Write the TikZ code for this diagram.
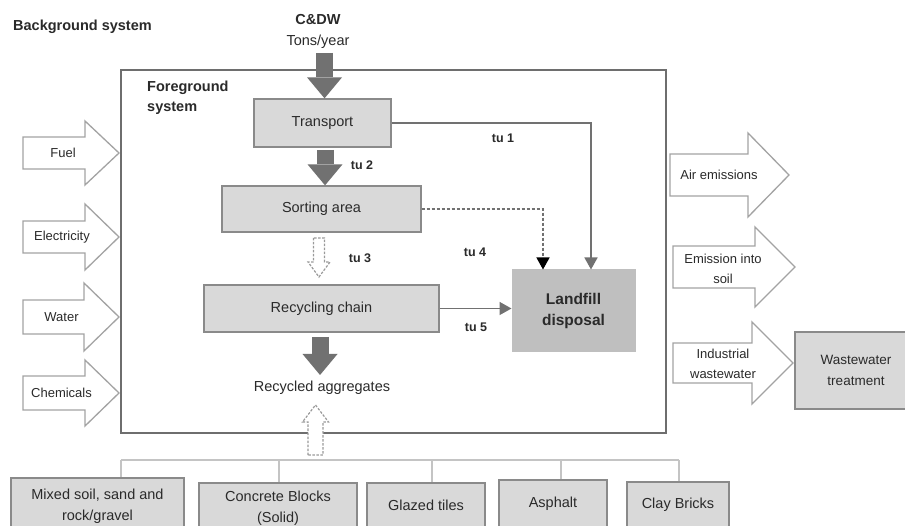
\documentclass[tikz,border=0pt]{standalone}
\usepackage{fontspec}
\setmainfont{Liberation Sans}
\usetikzlibrary{arrows.meta,calc}
\definecolor{boxfill}{HTML}{D9D9D9}
\definecolor{boxline}{HTML}{8A8A8A}
\definecolor{landc}{HTML}{BFBFBF}
\definecolor{fatc}{HTML}{717171}
\definecolor{framec}{HTML}{6E6E6E}
\definecolor{blockc}{HTML}{A3A3A3}
\definecolor{hollc}{HTML}{9A9A9A}
\definecolor{brc}{HTML}{C4C4C4}
\definecolor{textc}{HTML}{2A2A2A}
\newcommand{\blockR}[6]{%
  \draw[blockarrow] (#1,#4-#5) -- (#2,#4-#5) -- (#2,#4-#6) -- (#3,#4) -- (#2,#4+#6) -- (#2,#4+#5) -- (#1,#4+#5) -- cycle;}
\newcommand{\hollowV}[6]{%
  \draw[hollowdash] (#1-#5,#2) -- (#1-#5,#3) -- (#1-#6,#3) -- (#1,#4) -- (#1+#6,#3) -- (#1+#5,#3) -- (#1+#5,#2) -- cycle;}
\begin{document}
\begin{tikzpicture}[x=1pt,y=-1pt,
  txt/.style={text=textc, font=\fontsize{14.5}{20}\selectfont, inner sep=0pt, align=center},
  boldlbl/.style={text=textc, font=\bfseries\fontsize{14.5}{20}\selectfont, inner sep=0pt},
  tulbl/.style={text=textc, font=\bfseries\fontsize{12.5}{15}\selectfont, inner sep=0pt},
  arrlbl/.style={text=textc, font=\fontsize{13}{20}\selectfont, inner sep=0pt, align=center},
  boxnode/.style={draw=boxline, fill=boxfill, line width=1.3pt, text=textc, font=\fontsize{14.5}{21}\selectfont, align=center, inner sep=0pt},
  landfill/.style={draw=landc, fill=landc, line width=1pt, text=textc, font=\bfseries\fontsize{15.5}{21}\selectfont, align=center, inner sep=0pt},
  frame/.style={draw=framec, line width=1.8pt, inner sep=0pt},
  fat/.style={draw=fatc, line width=17pt, -{Triangle[length=21pt,width=35pt,line width=0pt]}},
  thinarr/.style={draw=fatc, line width=1.5pt, -{Triangle[length=12pt,width=13pt]}},
  dasharr/.style={draw=fatc, line width=1.3pt, dash pattern=on 3pt off 2pt, -{Triangle[length=12pt,width=13pt,black]}},
  blockarrow/.style={draw=blockc, line width=1.3pt, fill=white, line join=miter},
  hollowdash/.style={draw=hollc, line width=1.2pt, dash pattern=on 2.5pt off 1.5pt, fill=white},
  bracket/.style={draw=brc, line width=1.3pt}
]
\clip (0,0) rectangle (905,526);
\fill[white] (0,0) rectangle (905,526);

% frame
\node[frame, minimum width=545pt, minimum height=363pt] (fg) at (393.5,251.5) {};
\node[boldlbl, anchor=west] (bg) at (13,27) {Background system};
\node[boldlbl, anchor=west, align=left] (fgl) at (147,98) {Foreground\\system};
\node[boldlbl] (cdw) at (318,20) {C\&DW};
\node[txt] (tons) at (318,42) {Tons/year};

% process boxes
\node[boxnode, minimum width=137pt, minimum height=48pt] (transport) at (322.5,123) {Transport};
\node[boxnode, minimum width=199pt, minimum height=46pt] (sorting) at (321.5,209) {Sorting area};
\node[boxnode, minimum width=235pt, minimum height=47pt] (recycling) at (321.5,308.5) {Recycling chain};
\node[landfill, minimum width=123pt, minimum height=82pt] (landfill) at (573.5,311) {Landfill\\disposal};
\node[txt] (ragg) at (322,388) {Recycled aggregates};

% fat arrows
\coordinate (c1) at (324.5,53);
\coordinate (c2) at (325,150);
\coordinate (c3) at (320,337);
\coordinate (c3e) at (320,375);
\draw[fat] (c1) -- (c1 |- transport.north);
\draw[fat] (c2) -- (c2 |- sorting.north);
\draw[fat] (c3) -- (c3e);

% flows to landfill
\draw[thinarr] (transport.east) -| ([xshift=17.5pt]landfill.north);
\draw[dasharr] (sorting.east) -| ([xshift=-30.5pt]landfill.north);
\draw[thinarr] (recycling.east) -- (recycling.east -| landfill.west);

\node[tulbl] (tu1) at (503,138) {tu 1};
\node[tulbl] (tu2) at (362,165) {tu 2};
\node[tulbl] (tu3) at (360,258) {tu 3};
\node[tulbl] (tu4) at (475,252) {tu 4};
\node[tulbl] (tu5) at (476,327) {tu 5};

% hollow dashed arrows
\hollowV{319}{238}{262}{277}{5.5}{11}
\hollowV{315.5}{455}{422}{405}{7.5}{13}

% input arrows
\blockR{23}{85}{119}{153}{16}{32}
\blockR{23}{85}{119}{237}{16}{33}
\blockR{23}{84}{119}{317}{17}{34}
\blockR{23}{85}{119}{393}{17}{33}
\node[arrlbl] (fuel) at (63,153) {Fuel};
\node[arrlbl] (elec) at (62,237) {Electricity};
\node[arrlbl] (water) at (61.5,317) {Water};
\node[arrlbl] (chem) at (61.5,393) {Chemicals};

% output arrows
\blockR{670}{748}{789}{175}{21}{42}
\blockR{673}{755}{795}{267}{21}{40}
\blockR{673}{752}{793}{363}{20}{41}
\node[arrlbl] (air) at (719,175) {Air emissions};
\node[arrlbl] (soil) at (723,269) {Emission into\\soil};
\node[arrlbl] (indw) at (723,364) {Industrial\\wastewater};
\node[boxnode, minimum width=122pt, minimum height=77pt, font=\fontsize{13.5}{21}\selectfont] (wwt) at (856,370.5) {Wastewater\\treatment};

% bottom material boxes
\node[boxnode, minimum width=173pt, minimum height=56pt] (mixed) at (97.5,506) {Mixed soil, sand and\\rock/gravel};
\node[boxnode, minimum width=158pt, minimum height=50pt] (concrete) at (278,508) {Concrete Blocks\\(Solid)};
\node[boxnode, minimum width=118pt, minimum height=45pt] (glazed) at (426,505.5) {Glazed tiles};
\node[boxnode, minimum width=108pt, minimum height=48pt] (asphalt) at (553,504) {Asphalt};
\node[boxnode, minimum width=102pt, minimum height=46pt] (clay) at (678,505) {Clay Bricks};

\coordinate (b1) at (121,460);
\coordinate (b2) at (279,460);
\coordinate (b3) at (432,460);
\coordinate (b4) at (561,460);
\coordinate (b5) at (679,460);
\draw[bracket] (b1) -- (b5);
\draw[bracket] (b1) -- (b1 |- mixed.north);
\draw[bracket] (b2) -- (b2 |- concrete.north);
\draw[bracket] (b3) -- (b3 |- glazed.north);
\draw[bracket] (b4) -- (b4 |- asphalt.north);
\draw[bracket] (b5) -- (b5 |- clay.north);
\end{tikzpicture}
\end{document}
